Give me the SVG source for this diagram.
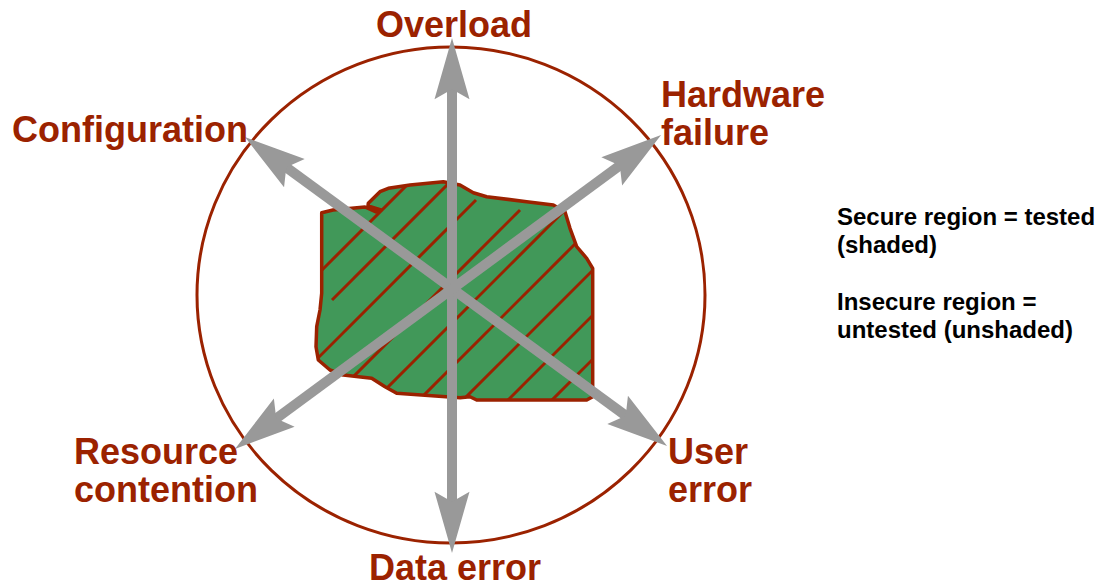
<svg xmlns="http://www.w3.org/2000/svg" width="1100" height="588" viewBox="0 0 1100 588">
<style>
.lbl{font-family:"Liberation Sans",Arial,sans-serif;font-weight:bold;font-size:36px;fill:#9b2200}
.leg{font-family:"Liberation Sans",Arial,sans-serif;font-weight:bold;font-size:24px;fill:#000}
.arr{stroke:#999999;stroke-width:10;fill:none;marker-start:url(#ah);marker-end:url(#ah)}
.hatch{stroke:#9b2200;stroke-width:3}
</style>
<defs>
<marker id="ah" markerUnits="userSpaceOnUse" orient="auto-start-reverse" refX="0" refY="0" markerWidth="100" markerHeight="100" viewBox="-20 -20 80 40" overflow="visible">
<path d="M40,0 L-9,-14 L-1,0 L-9,14 Z" fill="#999999"/>
</marker>
<clipPath id="blobclip">
<path id="blobpath" d="M321.7,212.7 L333,210 L365,207 L376,212 L381,210 L368,206 L368.3,203.3 L380,191.7 L388.3,188.3 L410,185 L443.3,181.7 L460,185 L473.3,192.7 L486.7,196.7 L526.7,201.7 L553.3,205 L565,211.7 L570,228.3 L576.7,246.7 L586.7,258.3 L592.7,268.3 L592.7,396.7 L586.7,400 L553.3,400 L476.7,400 L470,396.7 L460,397.7 L396.7,393.3 L385,386.7 L371.7,378.3 L343.3,375 L330,370 L318.3,360 L316,346.7 L316.7,326.7 L320,310 L321.7,293.3 Z"/>
</clipPath>
</defs>
<g id="boundary">
<ellipse cx="451" cy="295" rx="254" ry="248" fill="none" stroke="#9b2200" stroke-width="3"/>
</g>
<g id="secure-region">
<use href="#blobpath" fill="#419859"/>
<g clip-path="url(#blobclip)" class="hatch">
<line x1="292" y1="300" x2="492" y2="100"/>
<line x1="332" y1="300" x2="532" y2="100"/>
<line x1="276" y1="400" x2="476" y2="200"/>
<line x1="320" y1="410" x2="520" y2="210"/>
<line x1="365" y1="410" x2="565" y2="210"/>
<line x1="409" y1="410" x2="609" y2="210"/>
<line x1="453" y1="410" x2="653" y2="210"/>
<line x1="498" y1="410" x2="698" y2="210"/>
<line x1="542" y1="410" x2="742" y2="210"/>
</g>
<use href="#blobpath" fill="none" stroke="#9b2200" stroke-width="3.5" stroke-linejoin="round"/>
</g>
<g id="connectors">
<line class="arr" x1="452" y1="88" x2="452" y2="503"/>
<line class="arr" x1="285.3" y1="166.6" x2="626.7" y2="416.4"/>
<line class="arr" x1="620.8" y1="164.7" x2="275.2" y2="419.3"/>
</g>
<g id="overload"><text class="lbl" x="454" y="37" text-anchor="middle">Overload</text></g>
<g id="configuration"><text class="lbl" x="12" y="142">Configuration</text></g>
<g id="hardware-failure"><text class="lbl" x="661" y="107">Hardware</text><text class="lbl" x="661" y="145">failure</text></g>
<g id="resource-contention"><text class="lbl" x="74" y="464">Resource</text><text class="lbl" x="74" y="502">contention</text></g>
<g id="user-error"><text class="lbl" x="668" y="464">User</text><text class="lbl" x="668" y="502">error</text></g>
<g id="data-error"><text class="lbl" x="455" y="580" text-anchor="middle">Data error</text></g>
<g id="legend">
<text class="leg" x="837" y="225">Secure region = tested</text>
<text class="leg" x="837" y="253">(shaded)</text>
<text class="leg" x="837" y="310">Insecure region =</text>
<text class="leg" x="837" y="338">untested (unshaded)</text>
</g>
</svg>
